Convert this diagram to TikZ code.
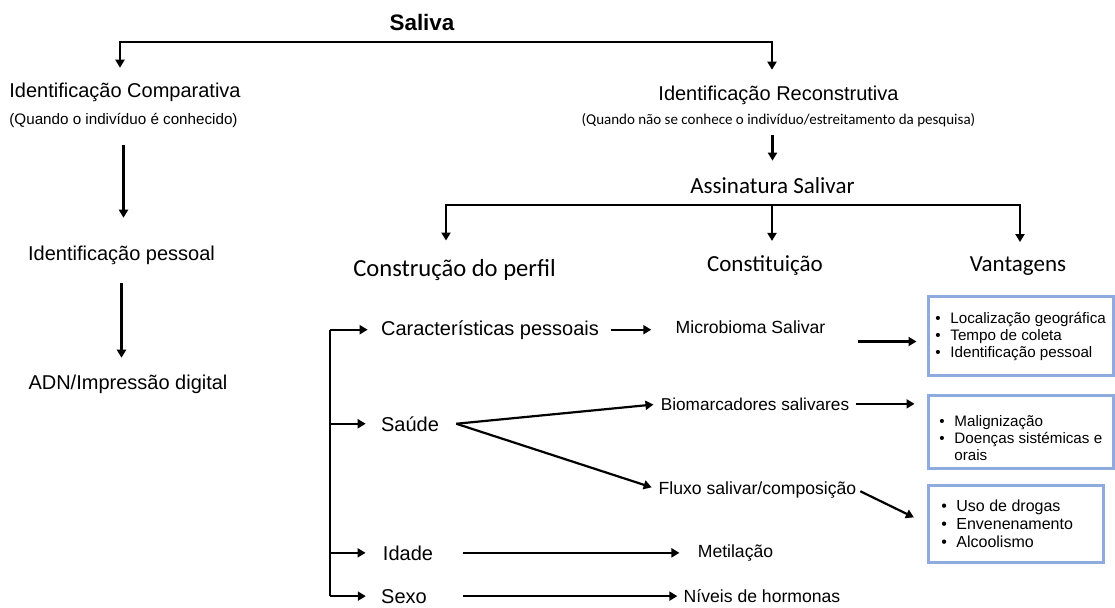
\documentclass[tikz,border=0pt]{standalone}
\usepackage{fontspec}
\setmainfont{Liberation Sans}
\newfontfamily\calib{Carlito}
\usepackage{tikz}
\usetikzlibrary{positioning,arrows.meta}
\usepackage{xcolor}
\definecolor{boxblue}{RGB}{143,170,220}
\tikzstyle{title} = [anchor=base, inner sep=0pt, font=\bfseries\fontsize{11.2}{13}\selectfont]
\tikzstyle{txt} = [anchor=base, inner sep=0pt, font=\fontsize{10}{12}\selectfont]
\tikzstyle{small} = [anchor=base, inner sep=0pt, font=\fontsize{8.8}{10}\selectfont]
\tikzstyle{note} = [anchor=base, inner sep=0pt, font=\fontsize{7.6}{9}\selectfont]
\tikzstyle{cnote} = [anchor=base, inner sep=0pt, font=\calib\fontsize{7.5}{9}\selectfont]
\tikzstyle{head} = [anchor=base, inner sep=0pt, font=\calib\fontsize{11.5}{14}\selectfont]
\tikzstyle{vbox} = [rectangle, draw=boxblue, line width=1.5pt, inner sep=0pt]
\tikzstyle{items} = [anchor=west, inner sep=0pt, align=left]
\tikzstyle{line} = [draw, line width=1.1pt, -{Triangle[width=4.5pt,length=4pt]}]
\tikzstyle{dline} = [draw, line width=1.1pt, {Triangle[width=4.5pt,length=4pt]}-{Triangle[width=4.5pt,length=4pt]}]
\newcommand{\bul}{\makebox[7.5pt][l]{\textbullet}}

\begin{document}
\begin{tikzpicture}[x=0.5pt, y=-0.5pt]
	\useasboundingbox (0,0) rectangle (1115,607);
	%% Saliva
	\node[title] (Saliva) at (422,30) {Saliva};
	%% comparative identification
	\node[txt] (Comp) at (125,97) {Identificação Comparativa};
	\node[note] (CompSub) at (123.5,124.5) {(Quando o indivíduo é conhecido)};
	\node[txt] (IdPess) at (121.5,260) {Identificação pessoal};
	\node[txt] (ADN) at (128,389) {ADN/Impressão digital};
	%% reconstructive identification
	\node[txt] (Recon) at (778.5,100) {Identificação Reconstrutiva};
	\node[cnote] (ReconSub) at (778.5,124) {(Quando não se conhece o indivíduo/estreitamento da pesquisa)};
	\node[head] (Assin) at (772.5,193) {Assinatura Salivar};
	%% columns
	\node[head, font=\calib\fontsize{12.3}{15}\selectfont] (Constr) at (454.5,276) {Construção do perfil};
	\node[head] (Constit) at (765,271) {Constituição};
	\node[head] (Vant) at (1018,271) {Vantagens};
	%% profile
	\node[txt] (Carac) at (490,335) {Características pessoais};
	\node[txt] (Saude) at (410,431) {Saúde};
	\node[txt] (Idade) at (408,560) {Idade};
	\node[txt] (Sexo) at (404,603) {Sexo};
	%% constitution
	\node[small] (Micro) at (750.5,333) {Microbioma Salivar};
	\node[small, font=\fontsize{8.6}{10}\selectfont] (Bio) at (755,410) {Biomarcadores salivares};
	\node[small] (Fluxo) at (757.5,494) {Fluxo salivar/composição};
	\node[small] (Metil) at (735.5,557) {Metilação};
	\node[small] (Niveis) at (762,602) {Níveis de hormonas};
	%% advantages
	\node[vbox, minimum width=92.5pt, minimum height=39.5pt] (Adv1) at (1020.5,335.5) {};
	\node[items, font=\fontsize{7.6}{8.5}\selectfont] (List1) at (935,337) {\bul Localização geográfica\\ \bul Tempo de coleta\\ \bul Identificação pessoal};
	\node[vbox, minimum width=92.5pt, minimum height=36.5pt] (Adv2) at (1020.5,431.5) {};
	\node[items, font=\fontsize{7.6}{8.7}\selectfont] (List2) at (939,438) {\bul Malignização\\ \bul Doenças sistémicas e\\ \hspace*{7.5pt}orais};
	\node[vbox, minimum width=87.5pt, minimum height=38.5pt] (Adv3) at (1015.5,523.5) {};
	\node[items, font=\fontsize{8}{9}\selectfont] (List3) at (941,524) {\bul Uso de drogas\\ \bul Envenenamento\\ \bul Alcoolismo};
	%% helper points
	\coordinate (topL) at (120,42);
	\coordinate (topR) at (772,42);
	\coordinate (fanL) at (446,205);
	\coordinate (fanM) at (772,205);
	\coordinate (fanR) at (1020,205);
	\coordinate (br) at (330,328);
	\coordinate (fork) at ([xshift=8.5pt]Saude.east);
	\coordinate (in1) at ([yshift=-3pt]Adv1.west);
	%% edges
	\path[dline, shorten <=7.2pt, shorten >=7.7pt] (topL |- Comp.north) -- (topL) -- (topR) -- (topR |- Recon.north);
	\path[line, shorten <=8.6pt, shorten >=13.7pt] (CompSub.south) -- (CompSub.south |- IdPess.north);
	\path[line, shorten <=9.4pt, shorten >=8.2pt] (IdPess.south) -- (IdPess.south |- ADN.north);
	\path[line, shorten <=4pt, shorten >=8pt] (Assin.north |- ReconSub.south) -- (Assin.north);
	\path[dline, shorten <=9pt, shorten >=6.9pt] (fanL |- Constr.north) -- (fanL) -- (fanR) -- (fanR |- Vant.north);
	\path[line, shorten >=6.9pt] (fanM) -- (fanM |- Constit.north);
	\draw[line width=1.1pt] (br |- Carac.west) -- (br |- Sexo.west);
	\path[line, shorten >=6.5pt] (br |- Carac.west) -- (Carac.west);
	\path[line, shorten >=7.5pt] (br |- Saude.west) -- (Saude.west);
	\path[line, shorten >=8.5pt] (br |- Idade.west) -- (Idade.west);
	\path[line, shorten >=7.5pt] (br |- Sexo.west) -- (Sexo.west);
	\path[line, shorten <=6pt, shorten >=12pt] (Carac.east) -- (Carac.east -| Micro.west);
	\path[line, shorten <=16pt, shorten >=5pt] (in1 -| Micro.east) -- (in1);
	\path[line, shorten >=3.5pt] (fork) -- (Bio.west);
	\path[line, shorten >=3.5pt] (fork) -- (Fluxo.west);
	\path[line, shorten <=3pt, shorten >=6pt] (Bio.east) -- (Bio.east -| Adv2.west);
	\path[line, shorten <=2pt, shorten >=7pt] (Fluxo.east) -- (Adv3.west);
	\path[line, shorten <=15pt, shorten >=9pt] (Idade.east) -- (Idade.east -| Metil.west);
	\path[line, shorten <=18pt, shorten >=3pt] (Sexo.east) -- (Sexo.east -| Niveis.west);
\end{tikzpicture}
\end{document}
